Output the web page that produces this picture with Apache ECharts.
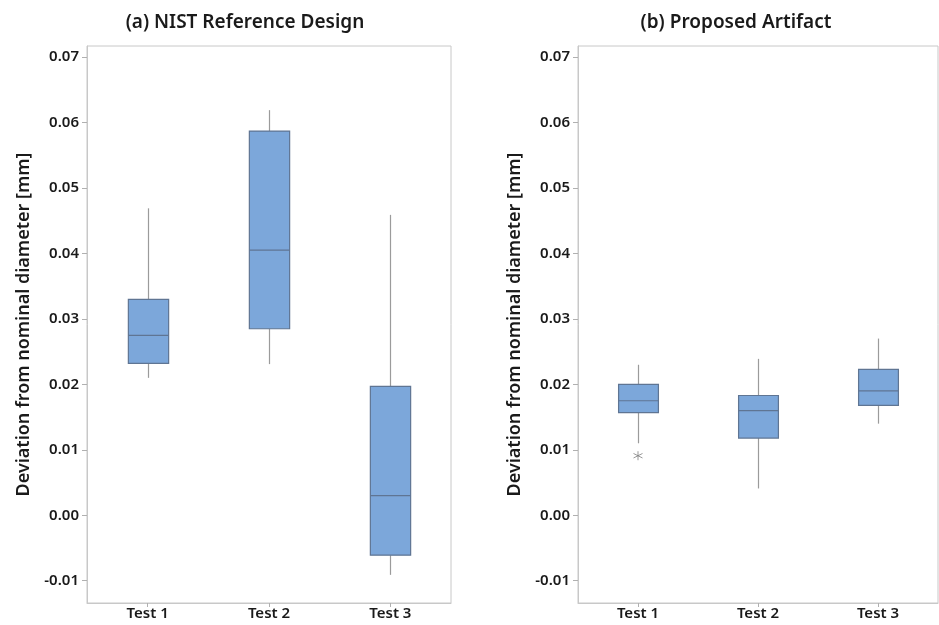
<!DOCTYPE html>
<html>
<head>
<meta charset="utf-8">
<script src="https://cdn.jsdelivr.net/npm/echarts@6/dist/echarts.min.js"></script>
<style>
html,body{margin:0;padding:0;background:#fff;}
#chart{width:939px;height:625px;}
</style>
</head>
<body>
<div id="chart"></div>
<script>
const categories = ['Test 1', 'Test 2', 'Test 3'];
const yTicks = [-0.01, 0.00, 0.01, 0.02, 0.03, 0.04, 0.05, 0.06, 0.07];

// (a) NIST Reference Design
const nistMin    = [0.0210, 0.0231, -0.0091];
const nistQ1     = [0.0232, 0.0285, -0.0061];
const nistMedian = [0.0275, 0.0405,  0.0030];
const nistQ3     = [0.0330, 0.0587,  0.0197];
const nistMax    = [0.0469, 0.0619,  0.0459];

// (b) Proposed Artifact
const artMin    = [0.0110, 0.0041, 0.0140];
const artQ1     = [0.0157, 0.0118, 0.0168];
const artMedian = [0.0175, 0.0160, 0.0190];
const artQ3     = [0.0200, 0.0183, 0.0223];
const artMax    = [0.0230, 0.0239, 0.0270];
const artOutliers = [[0, 0.0091]];

const titles = ['(a) NIST Reference Design', '(b) Proposed Artifact'];
const yName = 'Deviation from nominal diameter [mm]';

const FONT = '"Noto Sans", "Open Sans", sans-serif';
const BOX_FILL = '#7ca7da';
const BOX_STROKE = '#5f7593';
const WHISKER = '#9b9b9b';

function buildRows(mn, q1, md, q3, mx) {
  return categories.map((c, i) => [i, mn[i], q1[i], md[i], q3[i], mx[i]]);
}

function renderBox(params, api) {
  const x = api.value(0);
  const pMin = api.coord([x, api.value(1)]);
  const pQ1 = api.coord([x, api.value(2)]);
  const pMed = api.coord([x, api.value(3)]);
  const pQ3 = api.coord([x, api.value(4)]);
  const pMax = api.coord([x, api.value(5)]);
  const cx = Math.round(pMed[0]) + 0.5;
  const half = api.size([1, 0])[0] * 0.166;
  return {
    type: 'group',
    children: [
      { type: 'line', shape: { x1: cx, y1: pMax[1], x2: cx, y2: pQ3[1] }, style: { stroke: WHISKER, lineWidth: 1.2 } },
      { type: 'line', shape: { x1: cx, y1: pQ1[1], x2: cx, y2: pMin[1] }, style: { stroke: WHISKER, lineWidth: 1.2 } },
      { type: 'rect', shape: { x: cx - half, y: pQ3[1], width: 2 * half, height: pQ1[1] - pQ3[1] }, style: { fill: BOX_FILL, stroke: BOX_STROKE, lineWidth: 1.2 } },
      { type: 'line', shape: { x1: cx - half, y1: pMed[1], x2: cx + half, y2: pMed[1] }, style: { stroke: BOX_STROKE, lineWidth: 1.2 } }
    ]
  };
}

function xAxisCfg(gi) {
  return {
    type: 'category', gridIndex: gi, data: categories,
    axisLine: { show: true, onZero: false, lineStyle: { color: '#c8c8c8' } },
    axisTick: { show: true, alignWithLabel: true, length: 4, lineStyle: { color: '#b0b0b0' } },
    axisLabel: { color: '#1a1a1a', fontSize: 15, fontFamily: FONT, fontWeight: 600, margin: 3 }
  };
}
function yAxisCfg(gi) {
  return {
    type: 'value', gridIndex: gi, min: -0.0134, max: 0.0717,
    name: yName, nameLocation: 'middle', nameRotate: 90, nameGap: 54,
    nameTextStyle: { color: '#1a1a1a', fontSize: 18, fontFamily: FONT, fontWeight: 600 },
    axisLine: { show: true, lineStyle: { color: '#c8c8c8' } },
    axisTick: { show: true, length: 5, customValues: yTicks, lineStyle: { color: '#b0b0b0' } },
    axisLabel: { color: '#1a1a1a', fontSize: 15, fontFamily: FONT, fontWeight: 600, margin: 8,
      customValues: yTicks, formatter: v => (Math.abs(v) < 1e-9 ? 0 : v).toFixed(2) },
    splitLine: { show: false }
  };
}

const chart = echarts.init(document.getElementById('chart'), null, { renderer: 'canvas' });
chart.setOption({
  backgroundColor: '#fff',
  animation: false,
  title: [
    { text: titles[0], left: 240, top: 8, textAlign: 'center', textStyle: { color: '#1a1a1a', fontSize: 19, fontFamily: FONT, fontWeight: 600 } },
    { text: titles[1], left: 731, top: 8, textAlign: 'center', textStyle: { color: '#1a1a1a', fontSize: 19, fontFamily: FONT, fontWeight: 600 } }
  ],
  grid: [
    { left: 87, top: 46, width: 364, height: 557, show: true, borderColor: '#c8c8c8', borderWidth: 1 },
    { left: 578, top: 46, width: 360, height: 557, show: true, borderColor: '#c8c8c8', borderWidth: 1 }
  ],
  xAxis: [xAxisCfg(0), xAxisCfg(1)],
  yAxis: [yAxisCfg(0), yAxisCfg(1)],
  series: [
    { type: 'custom', xAxisIndex: 0, yAxisIndex: 0, renderItem: renderBox,
      encode: { x: 0, y: [1, 2, 3, 4, 5] }, data: buildRows(nistMin, nistQ1, nistMedian, nistQ3, nistMax) },
    { type: 'custom', xAxisIndex: 1, yAxisIndex: 1, renderItem: renderBox,
      encode: { x: 0, y: [1, 2, 3, 4, 5] }, data: buildRows(artMin, artQ1, artMedian, artQ3, artMax) },
    { type: 'scatter', xAxisIndex: 1, yAxisIndex: 1, data: artOutliers,
      symbol: 'path://M5,0L5,10M0.67,2.5L9.33,7.5M0.67,7.5L9.33,2.5', symbolSize: 9,
      itemStyle: { color: 'none', borderColor: '#808080', borderWidth: 1 } }
  ]
});
</script>
</body>
</html>
